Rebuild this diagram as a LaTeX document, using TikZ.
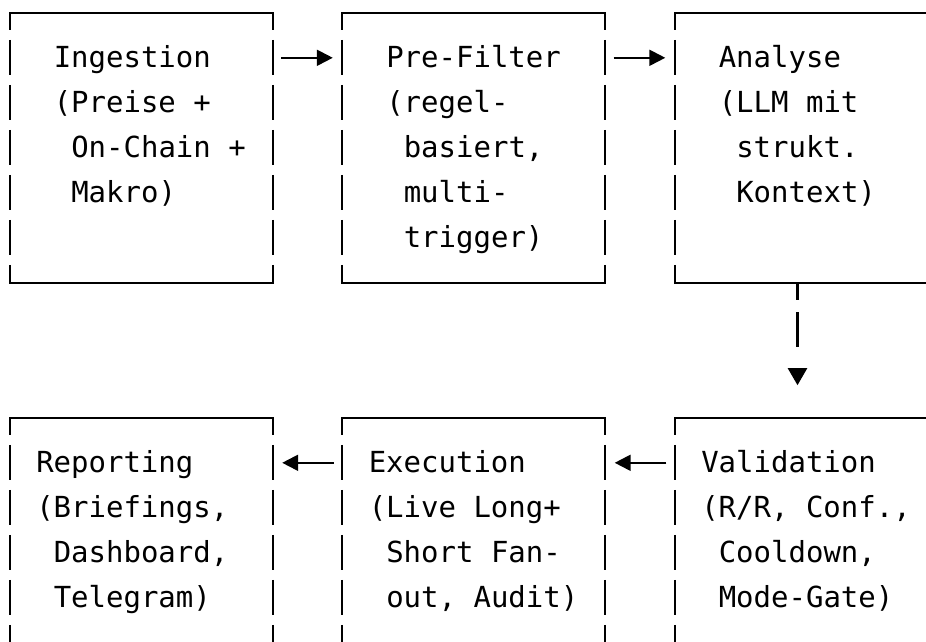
\documentclass[tikz,border=0pt]{standalone}
\usepackage{fontspec}
\setmonofont{DejaVu Sans Mono}
\usetikzlibrary{arrows.meta}

\tikzset{
  stage/.style={rectangle,draw=none,inner sep=0pt,minimum width=262.5pt,minimum height=270pt},
  rule/.style={line width=2.3pt},
  gapped/.style={dash pattern=on 35pt off 10pt,dash phase=18pt},
  txt/.style={anchor=base west,inner sep=0pt,font=\ttfamily\fontsize{29pt}{45pt}\selectfont},
  flow/.style={line width=2pt,-{Triangle[length=16pt,width=16pt]},shorten <=8.5pt,shorten >=9.5pt}
}

\begin{document}
\begin{tikzpicture}[x=1pt,y=-1pt]
  \useasboundingbox (0,0) rectangle (926,642);
  \clip (0,0) rectangle (926,642);

  \node[stage] (ingest) at (141.25,148) {};
  \node[stage] (prefilter) at (473.75,148) {};
  \node[stage] (analyse) at (806.25,148) {};
  \node[stage] (report) at (141.25,553) {};
  \node[stage] (exec) at (473.75,553) {};
  \node[stage] (valid) at (806.25,553) {};

  \foreach \n in {ingest,prefilter,analyse,report,exec,valid}{
    \draw[rule,line cap=rect] (\n.north west) -- (\n.north east);
    \draw[rule,line cap=rect] (\n.south west) -- (\n.south east);
    \draw[rule,gapped] (\n.north west) -- (\n.south west);
    \draw[rule,gapped] (\n.north east) -- (\n.south east);
  }

  \node[txt] (ingest-t1) at ([xshift=43.75pt,yshift=-55pt]ingest.north west) {Ingestion};
  \node[txt] (ingest-t2) at ([xshift=43.75pt,yshift=-100pt]ingest.north west) {(Preise +};
  \node[txt] (ingest-t3) at ([xshift=61.25pt,yshift=-145pt]ingest.north west) {On-Chain +};
  \node[txt] (ingest-t4) at ([xshift=61.25pt,yshift=-190pt]ingest.north west) {Makro)};

  \node[txt] (prefilter-t1) at ([xshift=43.75pt,yshift=-55pt]prefilter.north west) {Pre-Filter};
  \node[txt] (prefilter-t2) at ([xshift=43.75pt,yshift=-100pt]prefilter.north west) {(regel-};
  \node[txt] (prefilter-t3) at ([xshift=61.25pt,yshift=-145pt]prefilter.north west) {basiert,};
  \node[txt] (prefilter-t4) at ([xshift=61.25pt,yshift=-190pt]prefilter.north west) {multi-};
  \node[txt] (prefilter-t5) at ([xshift=61.25pt,yshift=-235pt]prefilter.north west) {trigger)};

  \node[txt] (analyse-t1) at ([xshift=43.75pt,yshift=-55pt]analyse.north west) {Analyse};
  \node[txt] (analyse-t2) at ([xshift=43.75pt,yshift=-100pt]analyse.north west) {(LLM mit};
  \node[txt] (analyse-t3) at ([xshift=61.25pt,yshift=-145pt]analyse.north west) {strukt.};
  \node[txt] (analyse-t4) at ([xshift=61.25pt,yshift=-190pt]analyse.north west) {Kontext)};

  \node[txt] (report-t1) at ([xshift=26.25pt,yshift=-55pt]report.north west) {Reporting};
  \node[txt] (report-t2) at ([xshift=26.25pt,yshift=-100pt]report.north west) {(Briefings,};
  \node[txt] (report-t3) at ([xshift=43.75pt,yshift=-145pt]report.north west) {Dashboard,};
  \node[txt] (report-t4) at ([xshift=43.75pt,yshift=-190pt]report.north west) {Telegram)};

  \node[txt] (exec-t1) at ([xshift=26.25pt,yshift=-55pt]exec.north west) {Execution};
  \node[txt] (exec-t2) at ([xshift=26.25pt,yshift=-100pt]exec.north west) {(Live Long+};
  \node[txt] (exec-t3) at ([xshift=43.75pt,yshift=-145pt]exec.north west) {Short Fan-};
  \node[txt] (exec-t4) at ([xshift=43.75pt,yshift=-190pt]exec.north west) {out, Audit)};

  \node[txt] (valid-t1) at ([xshift=26.25pt,yshift=-55pt]valid.north west) {Validation};
  \node[txt] (valid-t2) at ([xshift=26.25pt,yshift=-100pt]valid.north west) {(R/R, Conf.,};
  \node[txt] (valid-t3) at ([xshift=43.75pt,yshift=-145pt]valid.north west) {Cooldown,};
  \node[txt] (valid-t4) at ([xshift=43.75pt,yshift=-190pt]valid.north west) {Mode-Gate)};

  % arrows between the stages
  \draw[flow] ([yshift=-45pt]ingest.north east) -- ([yshift=-45pt]prefilter.north west);
  \draw[flow] ([yshift=-45pt]prefilter.north east) -- ([yshift=-45pt]analyse.north west);
  \draw[flow] ([yshift=-45pt]valid.north west) -- ([yshift=-45pt]exec.north east);
  \draw[flow] ([yshift=-45pt]exec.north west) -- ([yshift=-45pt]report.north east);

  \coordinate (downtip) at ([xshift=-8.75pt,yshift=-102pt]analyse.south);
  \draw[rule,dash pattern=on 17pt off 12pt on 35pt off 40pt,-{Triangle[length=17pt,width=19pt]}] ([xshift=-8.75pt]analyse.south) -- (downtip);
\end{tikzpicture}
\end{document}
